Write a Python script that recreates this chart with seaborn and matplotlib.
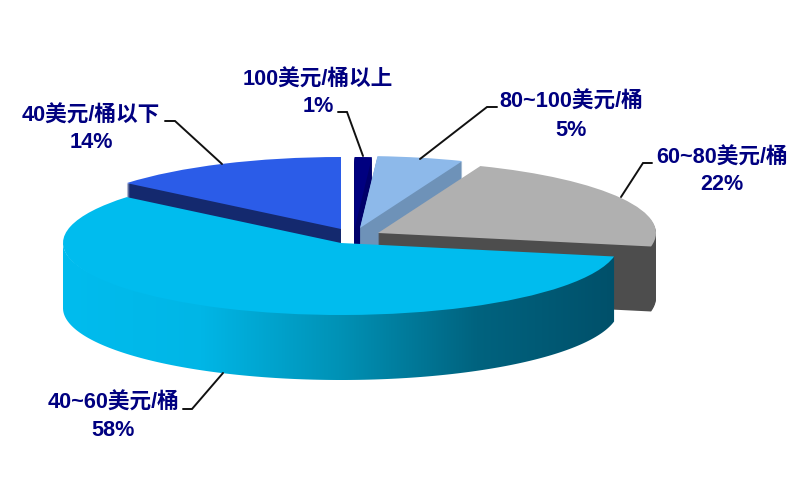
import numpy as np
import matplotlib
matplotlib.use('Agg')
import matplotlib.pyplot as plt
from matplotlib.colors import ListedColormap
from matplotlib.patches import Polygon
import seaborn as sns

# Data
categories = ['100美元/桶以上', '80~100美元/桶', '60~80美元/桶', '40~60美元/桶', '40美元/桶以下']
shares = [1, 5, 22, 58, 14]

top_colors = ['#000080', '#8db9ea', '#b0b0b0', '#00bcee', '#2b5ce8']
wall_colors = ['#00006a', '#6e92b8', '#4d4d4d', '#00a4cc', '#14296e']
gradient_stops = ['#00bcee', '#00b6e6', '#0092b6', '#00637f', '#00506a']

sns.set_theme(style='white')
plt.rcParams['font.family'] = ['Liberation Sans', 'Noto Sans CJK SC']

# Layout, in reference pixels
WIDTH, HEIGHT = 800, 492
SQUASH = 0.259
RADIUS = 278
DEPTH = 65
centers = [(354.5, 229), (360, 228), (378, 233), (341, 243), (341, 229)]
draw_order = [4, 0, 1, 2, 3]
GRADIENT_SLICE = 3

label_pos = [(318, 80, 107), (571, 102, 130), (722, 158, 185), (113, 403, 431), (91, 116, 143)]
leaders = [
    [(338, 112), (347, 112), (363, 156)],
    [(497, 107), (487, 107), (420, 159)],
    [(652, 163), (643, 163), (621, 197)],
    [(183, 409), (192, 409), (223, 373)],
    [(165, 121), (175, 121), (222, 164)],
]


def to_y(py):
    return (HEIGHT - py) / SQUASH


def draw_slice(ax, index, center, zorder, color):
    wedges, _ = ax.pie(shares, startangle=90, counterclock=False, radius=RADIUS,
                       center=center, colors=[color] * len(shares),
                       wedgeprops={'zorder': zorder, 'linewidth': 0})
    for j, wedge in enumerate(wedges):
        if j != index:
            wedge.remove()
    return wedges[index]


def wall_outline(wedge):
    # only the front half of the rim can be seen; the upper arc tucks under the top face
    angles = np.radians(np.linspace(max(wedge.theta1, -180), wedge.theta2, 240))
    cos, sin = np.cos(angles), np.sin(angles)
    cx, cy = wedge.center
    drop = DEPTH / SQUASH
    x = np.r_[cx + wedge.r * cos, cx + wedge.r * cos[::-1]]
    y = np.r_[cy + (wedge.r - 8) * sin, cy + wedge.r * sin[::-1] - drop]
    return np.column_stack([x, y])


fig = plt.figure(figsize=(WIDTH / 100, HEIGHT / 100), dpi=100, facecolor='white')
ax = fig.add_axes([0, 0, 1, 1])

for order, i in enumerate(draw_order):
    cx, cy = centers[i]
    z = 2 + order * 2
    # side of the slice: the same slice stacked downwards
    if i != GRADIENT_SLICE:
        for d in range(DEPTH, 0, -1):
            draw_slice(ax, i, (cx, to_y(cy + d)), z, wall_colors[i])
    top = draw_slice(ax, i, (cx, to_y(cy)), z + 1, top_colors[i])

    if i == GRADIENT_SLICE:
        outline = wall_outline(top)
        cmap = ListedColormap(sns.blend_palette(gradient_stops, 256))
        image = ax.imshow(np.linspace(0, 1, 256)[None, :], cmap=cmap, aspect='auto',
                          extent=(outline[:, 0].min(), outline[:, 0].max(),
                                  outline[:, 1].min(), outline[:, 1].max()),
                          zorder=z + 0.5)
        image.set_clip_path(Polygon(outline, transform=ax.transData))

for points in leaders:
    xs = [p[0] for p in points]
    ys = [to_y(p[1]) for p in points]
    ax.plot(xs, ys, color='#111111', lw=1.4, zorder=30, solid_joinstyle='miter')

for name, share, (x, y1, y2) in zip(categories, shares, label_pos):
    ax.text(x, to_y(y1), name, color='#000080', fontsize=15.6, fontweight='bold',
            ha='center', va='center', zorder=31)
    ax.text(x, to_y(y2), f'{share}%', color='#000080', fontsize=15.6, fontweight='bold',
            ha='center', va='center', zorder=31)

ax.set_aspect('auto')
ax.set_xlim(0, WIDTH)
ax.set_ylim(0, HEIGHT / SQUASH)
ax.axis('off')

fig.savefig('out.png', dpi=100, facecolor='white')
plt.close(fig)
